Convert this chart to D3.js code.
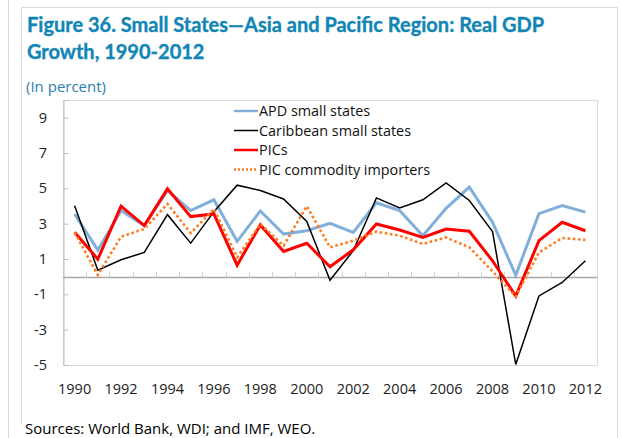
<!DOCTYPE html>
<html>
<head>
<meta charset="utf-8">
<script src="https://cdn.jsdelivr.net/npm/d3@7"></script>
<style>
  html, body { margin: 0; padding: 0; background: #fff; }
  svg { display: block; }
</style>
</head>
<body>
<svg id="chart" width="621" height="438"></svg>
<script>
// Real GDP growth, percent
const years = d3.range(1990, 2013);
const apdSmallStates = [3.55, 1.5, 3.74, 2.89, 4.88, 3.74, 4.35, 2.0, 3.72, 2.41, 2.6, 3.02, 2.5, 4.18, 3.74, 2.32, 3.87, 5.07, 3.08, 0.08, 3.57, 4.03, 3.65];
const caribbeanSmallStates = [4.02, 0.37, 0.96, 1.37, 3.51, 1.9, 3.68, 5.18, 4.88, 4.4, 3.12, -0.2, 1.47, 4.46, 3.89, 4.35, 5.31, 4.31, 2.55, -4.97, -1.09, -0.33, 0.9];
const pics = [2.51, 0.99, 3.99, 2.89, 4.97, 3.4, 3.55, 0.65, 2.93, 1.43, 1.89, 0.56, 1.52, 2.98, 2.64, 2.22, 2.7, 2.57, 0.9, -1.1, 2.04, 3.08, 2.6];
const picCommodityImporters = [2.5, 0.1, 2.26, 2.7, 4.12, 2.47, 3.83, 1.09, 2.98, 1.75, 3.99, 1.66, 2.04, 2.55, 2.32, 1.85, 2.22, 1.66, 0.3, -1.12, 1.37, 2.19, 2.08];

const seriesNames = ["APD small states", "Caribbean small states", "PICs", "PIC commodity importers"];
const yTicks = [-5, -3, -1, 1, 3, 5, 7, 9];
const xTickYears = d3.range(1990, 2013, 2);

const titleLines = ["Figure 36. Small States\u2014Asia and Pacific Region: Real GDP", "Growth, 1990-2012"];
const subtitle = "(In percent)";
const sourceNote = "Sources: World Bank, WDI; and IMF, WEO.";

const styles = [
  { color: "#80b0da", width: 3, dash: null },
  { color: "#000000", width: 1.5, dash: null },
  { color: "#ff0000", width: 3, dash: null },
  { color: "#ff7c20", width: 2.6, dash: "2.6,2.6" }
];
const seriesValues = [apdSmallStates, caribbeanSmallStates, pics, picCommodityImporters];

const svg = d3.select("#chart");
const FONT = "'Open Sans', 'Noto Sans', sans-serif";

// Panel frame
svg.append("line").attr("x1", 8.5).attr("x2", 8.5).attr("y1", 0).attr("y2", 438)
  .attr("stroke", "#d9d9d9").attr("stroke-width", 1);
svg.append("path").attr("d", "M21.5,438 V7.5 H617.5 V438")
  .attr("fill", "none").attr("stroke", "#d9d9d9").attr("stroke-width", 1);

// Title
svg.append("g").selectAll("text").data(titleLines).join("text")
  .attr("x", 27).attr("y", (d, i) => 32 + i * 27)
  .attr("font-family", "Lato, 'Open Sans', sans-serif")
  .attr("font-weight", "bold").attr("font-size", 20)
  .attr("stroke", "#1186b5").attr("stroke-width", 0.35)
  .attr("fill", "#1186b5").text(d => d);

svg.append("text").attr("x", 26).attr("y", 92)
  .attr("font-family", FONT).attr("font-size", 15)
  .attr("fill", "#2a7fae").text(subtitle);

// Plot area
const plotLeft = 63, plotRight = 597, plotTop = 100, plotBottom = 365;
const x = d3.scaleBand().domain(years).range([plotLeft, plotRight]).padding(0);
const y = d3.scaleLinear().domain([-5, 10]).range([plotBottom, plotTop]);
const cx = yr => x(yr) + x.bandwidth() / 2;

svg.append("rect").attr("x", plotLeft + 0.5).attr("y", plotTop + 0.5)
  .attr("width", plotRight - plotLeft).attr("height", plotBottom - plotTop)
  .attr("fill", "#fff").attr("stroke", "#d9d9d9").attr("stroke-width", 1);

// Y axis ticks (inside) and labels
const yAxis = d3.axisRight(y).tickValues(yTicks).tickSize(5).tickFormat("");
const yg = svg.append("g").attr("transform", `translate(${plotLeft + 0.5},0)`).call(yAxis);
yg.select(".domain").attr("stroke", "#bfbfbf");
yg.selectAll(".tick line").attr("stroke", "#bfbfbf");

svg.append("g").selectAll("text").data(yTicks).join("text")
  .attr("x", 47).attr("y", d => y(d)).attr("dy", "0.35em")
  .attr("text-anchor", "end").attr("font-family", FONT).attr("font-size", 14.5)
  .attr("fill", "#222").text(d => String(d));

// Zero line with category boundary ticks
const zeroY = Math.round(y(0)) + 0.5;
svg.append("line").attr("x1", plotLeft).attr("x2", plotRight).attr("y1", zeroY).attr("y2", zeroY)
  .attr("stroke", "#a6a6a6").attr("stroke-width", 1.3);
svg.append("g").selectAll("line").data(years.slice(1)).join("line")
  .attr("x1", d => Math.round(x(d)) + 0.5).attr("x2", d => Math.round(x(d)) + 0.5)
  .attr("y1", zeroY - 6).attr("y2", zeroY)
  .attr("stroke", "#d0d0d0").attr("stroke-width", 1);

// X labels
svg.append("g").selectAll("text").data(xTickYears).join("text")
  .attr("x", d => cx(d)).attr("y", 389).attr("dy", "0.35em")
  .attr("text-anchor", "middle").attr("font-family", FONT).attr("font-size", 14.5)
  .attr("fill", "#222").text(d => d);

// Series lines
const line = d3.line().x((d, i) => cx(years[i])).y(d => y(d));
seriesValues.forEach((vals, i) => {
  const s = styles[i];
  svg.append("path").datum(vals)
    .attr("d", line).attr("fill", "none")
    .attr("stroke", s.color).attr("stroke-width", s.width)
    .attr("stroke-linejoin", "miter")
    .attr("stroke-dasharray", s.dash);
});

// Legend
const legend = svg.append("g").selectAll("g").data(seriesNames).join("g")
  .attr("transform", (d, i) => `translate(234,${111 + i * 19.5})`);
legend.append("line").attr("x1", 0).attr("x2", 24).attr("y1", 0).attr("y2", 0)
  .attr("stroke", (d, i) => styles[i].color)
  .attr("stroke-width", (d, i) => Math.min(styles[i].width, 2.5))
  .attr("stroke-dasharray", (d, i) => styles[i].dash ? "2,2" : null);
legend.append("text").attr("x", 25).attr("y", 0).attr("dy", "0.35em")
  .attr("font-family", FONT).attr("font-size", 14.4).attr("fill", "#111").text(d => d);

// Source note
svg.append("rect").attr("x", 20).attr("y", 424).attr("width", 310).attr("height", 14).attr("fill", "#fff");
svg.append("text").attr("x", 25).attr("y", 434)
  .attr("font-family", FONT).attr("font-size", 15).attr("fill", "#000").text(sourceNote);
</script>
</body>
</html>
